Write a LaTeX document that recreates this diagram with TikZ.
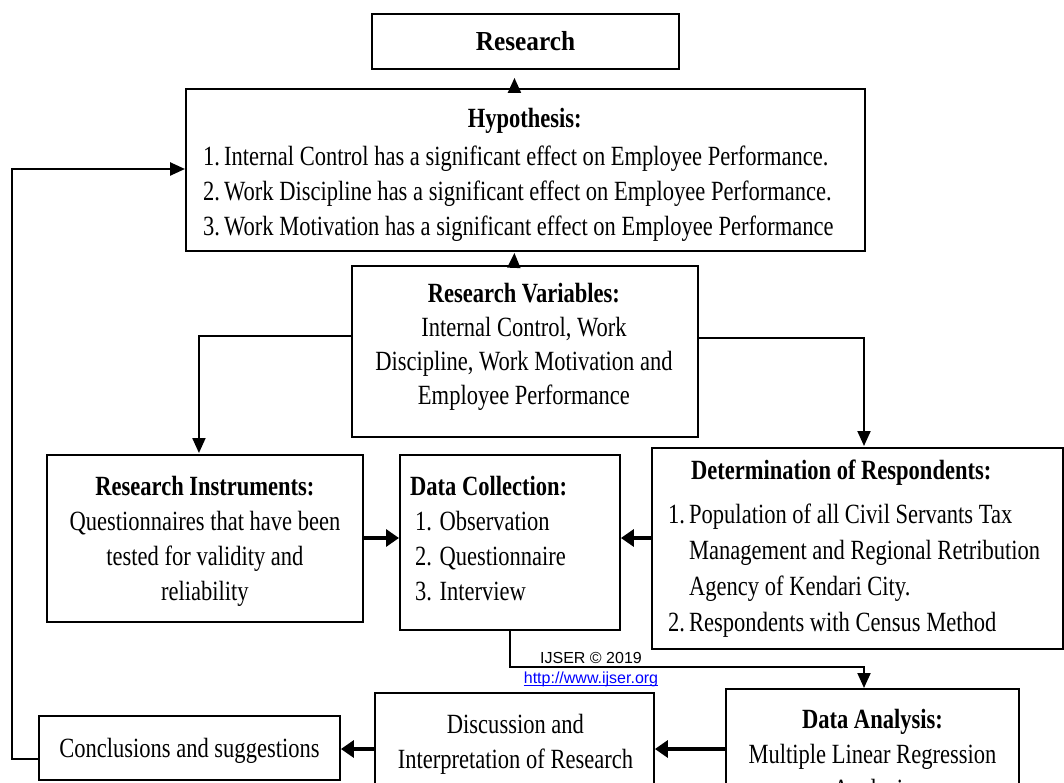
\documentclass[tikz,border=0pt]{standalone}
\usepackage{fontspec}
\setmainfont{Liberation Serif}[FakeStretch=0.81]
\newfontfamily\titlefont{Liberation Serif}[FakeStretch=0.92]
\newfontfamily\arialfont{Liberation Sans}
\usetikzlibrary{arrows.meta,calc}
\newcommand\st{\vrule height 24pt depth 9pt width 0pt}
\begin{document}
\begin{tikzpicture}[x=1pt,y=-1pt,
  box/.style={draw, line width=1.9pt, inner sep=0pt, anchor=north west},
  txt/.style={inner sep=0pt, font=\fontsize{27.8}{#1}\selectfont},
  txt/.default=35,
  conn/.style={line width=2pt, -{Triangle[length=15pt,width=13pt]}},
  boldconn/.style={line width=3.6pt, -{Triangle[length=13pt,width=17pt]}}
]
\fill[white] (0,0) rectangle (1064,783);
\useasboundingbox (0,0) rectangle (1064,783);
\clip (0,0) rectangle (1064,783);

% boxes
\node[box, minimum width=307pt, minimum height=55pt, font=\titlefont\bfseries\fontsize{27.5}{30}\selectfont, text depth=0pt] (res) at (371,13) {Research};
\node[box, minimum width=679pt, minimum height=162pt] (hyp) at (185,88) {};
\node[box, minimum width=346pt, minimum height=171pt] (rv) at (351,265) {};
\node[box, minimum width=316pt, minimum height=167pt] (ri) at (46,454) {};
\node[box, minimum width=220pt, minimum height=175pt] (dc) at (399,454) {};
\node[box, minimum width=411pt, minimum height=201pt] (dr) at (651,447) {};
\node[box, minimum width=293pt, minimum height=130pt] (da) at (725,688) {};
\node[box, minimum width=279pt, minimum height=120pt] (disc) at (374,692) {};
\node[box, minimum width=301pt, minimum height=64pt, font=\fontsize{27.8}{35}\selectfont, text depth=0pt] (concl) at (38,715) {Conclusions and suggestions};

% texts
\node[txt, anchor=north west, align=left] (hyptext) at ($(hyp.north west)+(18,15)$) {%
  \makebox[643pt][c]{\st\bfseries Hypothesis:}\\[3pt]
  \st\makebox[21pt][l]{1.}Internal Control has a significant effect on Employee Performance.\\
  \st\makebox[21pt][l]{2.}Work Discipline has a significant effect on Employee Performance.\\
  \st\makebox[21pt][l]{3.}Work Motivation has a significant effect on Employee Performance};

\node[txt=34, anchor=north, align=center] (rvtext) at ($(rv.north)+(-1,13)$) {%
  \st\textbf{Research Variables:}\\
  \st Internal Control, Work\\
  \st Discipline, Work Motivation and\\
  \st Employee Performance};

\node[txt, anchor=north, align=center] (ritext) at ($(ri.north)+(0,17)$) {%
  \st\textbf{Research Instruments:}\\
  \st Questionnaires that have been\\
  \st tested for validity and\\
  \st reliability};

\node[txt, anchor=north west, align=left] (dctext) at ($(dc.north west)+(11,17)$) {%
  \st\textbf{Data Collection:}\\
  \st\hspace*{5pt}1. Observation\\
  \st\hspace*{5pt}2. Questionnaire\\
  \st\hspace*{5pt}3. Interview};

\node[txt=36, anchor=north west, align=left] (drtext) at ($(dr.north west)+(17,8)$) {%
  \makebox[346pt][c]{\st\bfseries Determination of Respondents:}\\[8pt]
  \st\makebox[21pt][l]{1.}Population of all Civil Servants Tax\\
  \st\hspace*{21pt}Management and Regional Retribution\\
  \st\hspace*{21pt}Agency of Kendari City.\\
  \st\makebox[21pt][l]{2.}Respondents with Census Method};

\node[txt, anchor=north, align=center] (datext) at ($(da.north)+(0,16)$) {%
  \st\textbf{Data Analysis:}\\
  \st Multiple Linear Regression\\
  \st Analysis};

\node[txt, anchor=north, align=center] (disctext) at ($(disc.north)+(1,17)$) {%
  \st Discussion and\\
  \st Interpretation of Research};

% watermark texts
\node[font=\arialfont\fontsize{16}{18}\selectfont, inner sep=0pt, anchor=base] (ijser) at (591,663) {IJSER © 2019};
\node[font=\arialfont\fontsize{16}{18}\selectfont, inner sep=0pt, anchor=base, text=blue] (url) at (591,683) {http://www.ijser.org};
\draw[blue, line width=1.1pt] ($(url.base west)+(0,2.5)$) -- ($(url.base east)+(0,2.5)$);

% connectors
\draw[conn, shorten >=8pt] ($(hyp.north)+(-11,0)$) -- ($(res.south)+(-11,0)$);
\draw[conn, shorten >=1pt] ($(rv.north)+(-11,0)$) -- ($(hyp.south)+(-11,0)$);
\draw[conn, shorten >=1pt] ($(rv.north west)+(0,71)$) -| ($(ri.north)+(-6,0)$);
\draw[conn, shorten >=1pt] ($(rv.north east)+(0,73)$) -| ($(dr.north west)+(213,0)$);
\draw[boldconn] ($(ri.north east)+(0,84)$) -- ($(dc.north west)+(0,84)$);
\draw[boldconn] ($(dr.north west)+(0,91)$) -- ($(dc.north east)+(0,84)$);
\draw[conn] (dc.south) |- ($(da.north west)+(139,-21)$) -- ($(da.north west)+(139,0)$);
\draw[boldconn] ($(da.north west)+(0,61)$) -- ($(disc.north east)+(0,57)$);
\draw[boldconn] ($(disc.north west)+(0,57)$) -- ($(concl.north east)+(0,34)$);
\draw[conn, line width=2.5pt] ($(concl.north west)+(0,44)$) -- ++(-26,0) |- ($(hyp.north west)+(0,81)$);
\end{tikzpicture}
\end{document}
